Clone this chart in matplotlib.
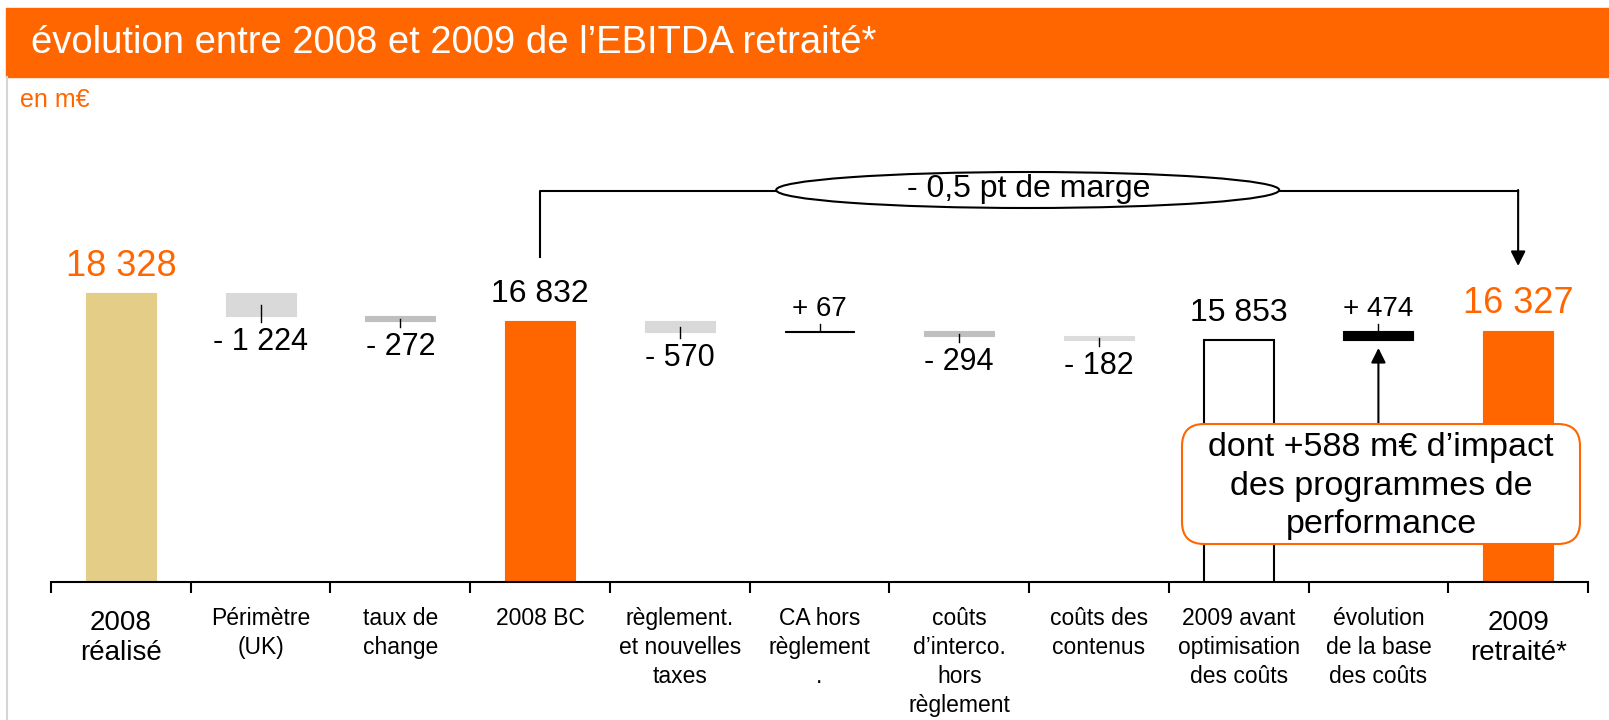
import matplotlib.pyplot as plt
from matplotlib.patches import Ellipse, FancyBboxPatch, Rectangle
from matplotlib.lines import Line2D

plt.rcParams['font.family'] = ['Liberation Sans', 'DejaVu Sans']

orange = '#ff6600'

# data
categories = ['2008\nréalisé', 'Périmètre\n(UK)', 'taux de\nchange', '2008 BC',
              'règlement.\net nouvelles\ntaxes', 'CA hors\nrèglement\n.',
              'coûts\nd’interco.\nhors\nrèglement', 'coûts des\ncontenus',
              '2009 avant\noptimisation\ndes coûts', 'évolution\nde la base\ndes coûts',
              '2009\nretraité*']
values = [18328, -1224, -272, 16832, -570, 67, -294, -182, 15853, 474, 16327]
is_total = [True, False, False, True, False, False, False, False, True, False, True]
value_labels = ['18 328', '- 1 224', '- 272', '16 832', '- 570', '+ 67',
                '- 294', '- 182', '15 853', '+ 474', '16 327']

# styles
bar_colors = ['#e4cd87', '#d9d9d9', '#bfbfbf', orange, '#d9d9d9', 'black',
              '#bfbfbf', '#dcdcdc', 'white', 'black', orange]
label_colors = [orange, 'k', 'k', 'k', 'k', 'k', 'k', 'k', 'k', 'k', orange]
big_cat = [True] + [False] * 9 + [True]

W, H = 1609, 720
fig = plt.figure(figsize=(W / 100, H / 100), dpi=100)

# title band
fig.patches.append(Rectangle((6 / W, 1 - 77 / H), 1, 69 / H, transform=fig.transFigure,
                             color=orange, zorder=0))
fig.text(31 / W, 1 - 43 / H, 'évolution entre 2008 et 2009 de l’EBITDA retraité*',
         color='white', fontsize=27.5, va='center', ha='left')
fig.text(20 / W, 1 - 100 / H, 'en m€', color=orange, fontsize=18, va='center', ha='left')
fig.lines.append(Line2D([7 / W, 7 / W], [0, 1 - 77 / H], transform=fig.transFigure,
                        color='#d6d6d6', lw=1.5))

ax = fig.add_axes([51 / W, 1 - 582 / H, 1537 / W, 462 / H])
ax.set_xlim(-0.5, len(values) - 0.5)
ax.set_ylim(2870, 27620)
for s in ['top', 'left', 'right']:
    ax.spines[s].set_visible(False)
ax.spines['bottom'].set_linewidth(1.5)
ax.set_yticks([])
ax.set_xticks([i - 0.5 for i in range(len(values) + 1)])
ax.set_xticklabels([])
ax.tick_params(axis='x', length=8, width=1.5, direction='out')

px = (27620 - 2870) / 462.0  # data units per pixel
xt = ax.get_xaxis_transform()

running = 0
for i, v in enumerate(values):
    if is_total[i]:
        lo, hi = 0, v
        running = v
    else:
        lo, hi = sorted([running, running + v])
        running += v
    ec = 'black' if bar_colors[i] in ('white', 'black') else bar_colors[i]
    ax.bar(i, hi - lo, bottom=lo, width=0.5, color=bar_colors[i], edgecolor=ec,
           lw=1.5 if bar_colors[i] == 'white' else 0.8, zorder=2)
    if is_total[i]:
        ax.annotate(value_labels[i], (i, hi), xytext=(0, 27), textcoords='offset pixels',
                    ha='center', va='center', fontsize=26 if label_colors[i] == orange else 23,
                    color=label_colors[i])
    elif v < 0:
        mid = (lo + hi) / 2
        ax.plot([i, i], [mid, lo - 6 * px], color='k', lw=1, zorder=3)
        ax.annotate(value_labels[i], (i, lo), xytext=(0, -26), textcoords='offset pixels',
                    ha='center', va='center', fontsize=22, color='k')
    else:
        mid = (lo + hi) / 2
        ax.plot([i, i], [mid, hi + 7 * px], color='k', lw=1, zorder=3)
        ax.annotate(value_labels[i], (i, hi), xytext=(0, 22), textcoords='offset pixels',
                    ha='center', va='center', fontsize=20, color='k')

# category labels
for i, c in enumerate(categories):
    ax.annotate(c, (i, 0), xycoords=xt, xytext=(0, -28 if big_cat[i] else -25),
                textcoords='offset pixels', ha='center', va='top',
                fontsize=20 if big_cat[i] else 16.5,
                linespacing=1.2 if big_cat[i] else 1.33, annotation_clip=False)


def fy(y_px):
    return (582 - y_px) / 462.0


# margin bracket
ax.plot([3, 3, 10], [fy(257), fy(191), fy(191)], transform=xt, color='k', lw=1.5,
        clip_on=False)
ax.annotate('', xy=(10, fy(266)), xycoords=xt, xytext=(10, fy(190)), textcoords=xt,
            arrowprops=dict(arrowstyle='-|>', color='k', lw=1.5, mutation_scale=22,
                            shrinkA=0, shrinkB=0))
ax.add_patch(Ellipse((6.49, fy(190)), 3.6, 36 / 462.0, transform=xt, facecolor='white',
                     edgecolor='k', lw=1.5, zorder=4, clip_on=False))
ax.text(6.5, fy(189), '- 0,5 pt de marge', transform=xt, ha='center', va='center',
        fontsize=23, zorder=5)

# callout
ax.annotate('', xy=(9, fy(348)), xycoords=xt, xytext=(9, fy(424)), textcoords=xt,
            arrowprops=dict(arrowstyle='-|>', color='k', lw=1.5, mutation_scale=22,
                            shrinkA=0, shrinkB=0))
fig.patches.append(FancyBboxPatch((1182 / W, 1 - 544 / H), 398 / W, 120 / H,
                                  boxstyle='round,pad=0,rounding_size=0.0137',
                                  mutation_aspect=W / H, transform=fig.transFigure,
                                  facecolor='white', edgecolor=orange, lw=1.5, zorder=5))
fig.text(1381 / W, 1 - 486 / H, 'dont +588 m€ d’impact\ndes programmes de\nperformance',
         ha='center', va='center', fontsize=24.5, linespacing=1.3, zorder=6)

fig.savefig('out.png', dpi=100)
